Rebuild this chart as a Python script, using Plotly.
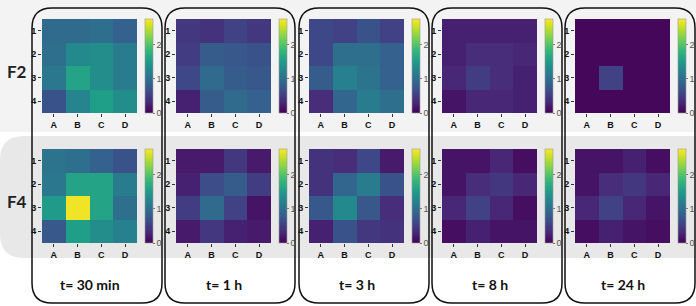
import plotly.graph_objects as go

W, H = 696, 306

x_labels = ['A', 'B', 'C', 'D']
y_labels = ['1', '2', '3', '4']
time_labels = ['t= 30 min', 't= 1 h', 't= 3 h', 't= 8 h', 't= 24 h']
row_labels = ['F2', 'F4']
cbar_ticks = [0, 1, 2]
z_max = 2.76

# F2 values (rows 1..4, columns A..D)
f2_30min = [[0.95, 0.95, 1.00, 0.85],
            [1.00, 1.30, 1.35, 1.15],
            [1.10, 1.60, 1.35, 1.15],
            [0.70, 1.25, 1.55, 1.35]]
f2_1h = [[0.45, 0.40, 0.55, 0.45],
         [0.50, 0.80, 0.75, 0.70],
         [0.60, 0.95, 0.80, 0.75],
         [0.25, 0.80, 0.95, 0.85]]
f2_3h = [[0.60, 0.55, 0.70, 0.55],
         [0.60, 1.00, 1.00, 0.85],
         [0.80, 1.20, 1.05, 0.85],
         [0.35, 0.90, 1.15, 1.00]]
f2_8h = [[0.25, 0.25, 0.25, 0.25],
         [0.25, 0.35, 0.35, 0.30],
         [0.30, 0.50, 0.35, 0.25],
         [0.15, 0.30, 0.30, 0.25]]
f2_24h = [[0.05, 0.05, 0.05, 0.05],
          [0.05, 0.05, 0.05, 0.05],
          [0.05, 0.55, 0.05, 0.05],
          [0.05, 0.05, 0.05, 0.05]]

# F4 values
f4_30min = [[1.05, 1.00, 0.85, 0.70],
            [1.10, 1.60, 1.60, 1.15],
            [1.50, 2.70, 1.60, 1.00],
            [0.75, 1.55, 1.35, 1.20]]
f4_1h = [[0.20, 0.20, 0.45, 0.20],
         [0.25, 0.65, 0.80, 0.50],
         [0.50, 0.95, 0.55, 0.15],
         [0.20, 0.45, 0.25, 0.20]]
f4_3h = [[0.40, 0.35, 0.60, 0.20],
         [0.40, 0.90, 1.15, 0.70],
         [0.75, 1.30, 0.75, 0.35],
         [0.25, 0.70, 0.45, 0.40]]
f4_8h = [[0.15, 0.15, 0.30, 0.10],
         [0.15, 0.35, 0.45, 0.30],
         [0.30, 0.55, 0.30, 0.10],
         [0.10, 0.25, 0.15, 0.15]]
f4_24h = [[0.15, 0.15, 0.25, 0.10],
          [0.15, 0.35, 0.45, 0.30],
          [0.30, 0.55, 0.30, 0.15],
          [0.10, 0.25, 0.15, 0.10]]

grid = [[f2_30min, f2_1h, f2_3h, f2_8h, f2_24h],
        [f4_30min, f4_1h, f4_3h, f4_8h, f4_24h]]

# layout (pixels)
hm_left = [42, 176, 309, 442, 575]
hm_w = 95
hm_top = [19, 149]
hm_h = 94
box_left = [32, 165, 299, 432, 565]
box_w = 130


def px(x):
    return x / W


def py(y):
    return 1 - y / H


def rrect(x0, y0, x1, y1, r):
    pts = [
        f"M{px(x0 + r)},{py(y0)}",
        f"L{px(x1 - r)},{py(y0)}",
        f"Q{px(x1)},{py(y0)} {px(x1)},{py(y0 + r)}",
        f"L{px(x1)},{py(y1 - r)}",
        f"Q{px(x1)},{py(y1)} {px(x1 - r)},{py(y1)}",
        f"L{px(x0 + r)},{py(y1)}",
        f"Q{px(x0)},{py(y1)} {px(x0)},{py(y1 - r)}",
        f"L{px(x0)},{py(y0 + r)}",
        f"Q{px(x0)},{py(y0)} {px(x0 + r)},{py(y0)}",
        "Z",
    ]
    return " ".join(pts)


fig = go.Figure()
layout = {}
k = 0
for r in range(2):
    for c in range(5):
        k += 1
        xa = 'x' if k == 1 else f'x{k}'
        ya = 'y' if k == 1 else f'y{k}'
        fig.add_trace(go.Heatmap(
            z=grid[r][c], x=x_labels, y=y_labels,
            colorscale='Viridis', zmin=0, zmax=z_max,
            xaxis=xa, yaxis=ya, hoverinfo='skip',
            colorbar=dict(
                x=px(hm_left[c] + hm_w + 8), xanchor='left', xpad=0,
                y=py(hm_top[r]), yanchor='top', ypad=0,
                len=hm_h, lenmode='pixels',
                thickness=8, thicknessmode='pixels',
                tickvals=cbar_ticks, ticks='outside', ticklen=2,
                tickcolor='#777', tickwidth=0.8,
                tickfont=dict(family='Liberation Sans', size=9, color='#555'),
                outlinewidth=0.6, outlinecolor='#999',
            ),
        ))
        axkey_x = 'xaxis' if k == 1 else f'xaxis{k}'
        axkey_y = 'yaxis' if k == 1 else f'yaxis{k}'
        layout[axkey_x] = dict(
            domain=[px(hm_left[c]), px(hm_left[c] + hm_w)],
            anchor=ya, showgrid=False, zeroline=False,
            ticks='outside', ticklen=3, tickcolor='#333', tickwidth=0.8,
            tickfont=dict(family='Liberation Sans', size=9, color='#111', weight='bold'),
            showline=False, fixedrange=True,
        )
        layout[axkey_y] = dict(
            domain=[py(hm_top[r] + hm_h), py(hm_top[r])],
            anchor=xa, showgrid=False, zeroline=False,
            autorange='reversed',
            ticks='outside', ticklen=3, tickcolor='#333', tickwidth=0.8,
            tickfont=dict(family='Liberation Sans', size=9, color='#111', weight='bold'),
            showline=False, fixedrange=True,
        )

shapes = [
    dict(type='path', xref='paper', yref='paper', layer='below',
         path=rrect(-30, -30, 726, 132, 22), fillcolor='#f3f3f3', line=dict(width=0)),
    dict(type='path', xref='paper', yref='paper', layer='below',
         path=rrect(0, 136, 726, 258, 24), fillcolor='#e8e8e8', line=dict(width=0)),
]
for c in range(5):
    shapes.append(dict(type='path', xref='paper', yref='paper', layer='below',
                       path=rrect(box_left[c], 8, box_left[c] + box_w, 303, 20),
                       fillcolor='rgba(0,0,0,0)', line=dict(color='#111', width=1.5)))

annotations = []
for r in range(2):
    annotations.append(dict(text=row_labels[r], xref='paper', yref='paper',
                            x=px(17), y=py(hm_top[r] + 52), showarrow=False,
                            xanchor='center', yanchor='middle',
                            font=dict(family='Lato', size=17, color='#222', weight='bold')))
for c in range(5):
    annotations.append(dict(text=time_labels[c], xref='paper', yref='paper',
                            x=px(hm_left[c] + hm_w / 2), y=py(284), showarrow=False,
                            xanchor='center', yanchor='middle',
                            font=dict(family='Lato', size=14, color='#111', weight='bold')))

fig.update_layout(
    width=W, height=H,
    margin=dict(l=0, r=0, t=0, b=0),
    paper_bgcolor='white', plot_bgcolor='rgba(0,0,0,0)',
    shapes=shapes, annotations=annotations,
    showlegend=False,
    **layout,
)

fig.write_html("out.html", config={'displayModeBar': False})

with open("out.html", "r", encoding="utf-8") as fh:
    html = fh.read()
html = html.replace("<head>", "<head><style>html,body{margin:0;padding:0;overflow:hidden;}</style>", 1)
with open("out.html", "w", encoding="utf-8") as fh:
    fh.write(html)
